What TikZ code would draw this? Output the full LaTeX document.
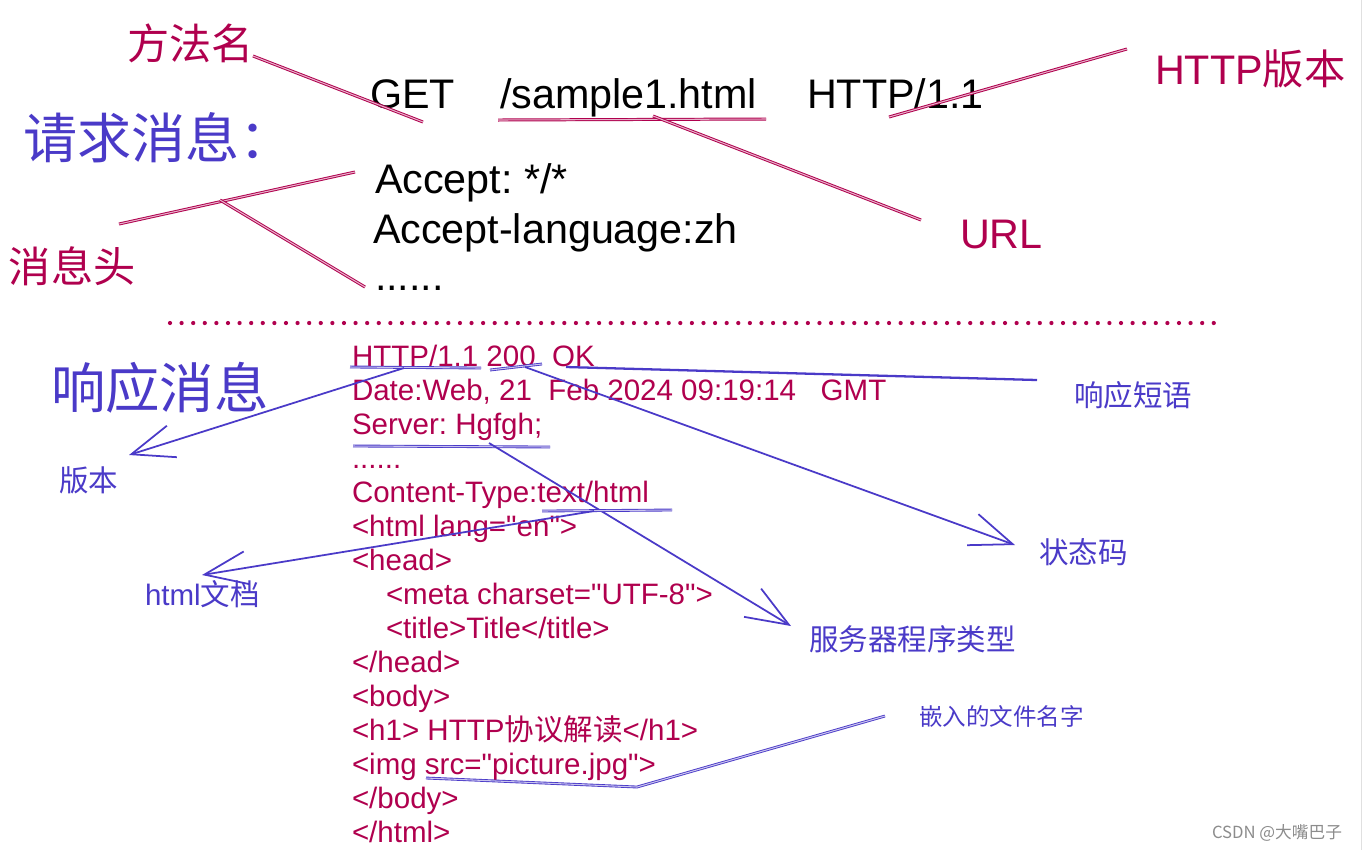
\documentclass[tikz,border=0pt]{standalone}
\usepackage{fontspec}
\usepackage{tikz}
\usepackage{xcolor}
\setmainfont{Liberation Sans}
\newfontfamily\cjk{Noto Sans CJK SC}
\usetikzlibrary{arrows.meta}
\definecolor{c1}{HTML}{B0004E}
\definecolor{c2}{HTML}{4A3AC8}
\definecolor{c3}{HTML}{8C8C8C}
\newcommand{\qq}{\textquotedbl}
\frenchspacing

\begin{document}
\begin{tikzpicture}[x=0.02cm, y=-0.02cm,
  txt/.style={anchor=base west, inner sep=0pt, outer sep=0pt},
  big/.style={txt, font=\fontsize{23.5}{24}\selectfont},
  code/.style={txt, text=c1, font=\fontsize{16.8}{17}\selectfont},
  note/.style={txt, text=c2, font=\cjk\fontsize{16.8}{17}\selectfont},
  redpen/.style={draw=c1, line width=0.55pt, double=c1!30, double distance=0.6pt},
  bluepen/.style={draw=c2, line width=0.5pt, double=c2!30, double distance=0.6pt},
  bluearrow/.style={draw=c2, line width=1pt, -{Straight Barb[length=0.85cm, width=0.66cm]}}
]
  \useasboundingbox (0,0) rectangle (1364,850);
  \fill[white] (0,0) rectangle (1364,850);
  \draw[black!12] (1361,0) -- (1361,850);

  % Request
  \node[big, text=c2, font=\cjk\fontsize{30.8}{31}\selectfont] (reqtitle) at (23,158) {请求消息：};
  \node[big] (get)     at (370,108) {GET};
  \node[big] (path)    at (500,108) {/sample1.html};
  \node[big] (ver)     at (807,108) {HTTP/1.1};
  \node[big] (acc)     at (375,193) {Accept: */*};
  \node[big] (acclang) at (373,243) {Accept-language:zh};
  \node[big] (accdots) at (375,290) {......};
  % Request labels
  \node[big, text=c1, font=\cjk\fontsize{24}{25}\selectfont] (mname) at (127,59) {方法名};
  \node[big, text=c1] (hverlbl) at (1155,84) {HTTP{\cjk 版本}};
  \node[big, text=c1] (urllbl)  at (960,248) {URL};
  \node[big, text=c1, font=\cjk\fontsize{24}{25}\selectfont] (hdrlbl) at (9,282) {消息头};

  \coordinate (mname-a) at (253,56);
  \coordinate (get-a)   at (423,122);
  \coordinate (path-l)  at (498,120);
  \coordinate (path-r)  at (766,119);
  \coordinate (path-m)  at (653,116);
  \coordinate (url-a)   at (921,220);
  \coordinate (ver-a)   at (889,117);
  \coordinate (hver-a)  at (1127,49);
  \coordinate (hdr-a)   at (119,224);
  \coordinate (acc-a)   at (355,172);
  \coordinate (hdr-m)   at (220,200);
  \coordinate (dots-a)  at (365,287);

  \draw[redpen] (mname-a) -- (get-a);
  \draw[redpen] (path-l) -- (path-r);
  \draw[redpen] (path-m) -- (url-a);
  \draw[redpen] (ver-a) -- (hver-a);
  \draw[redpen] (hdr-a) -- (acc-a);
  \draw[redpen] (hdr-m) -- (dots-a);

  % Separator
  \draw[c1, line width=2.4pt, line cap=round, dash pattern=on 0pt off 0.232cm] (170,323) -- (1215,323);

  % Response
  \node[big, text=c2, font=\cjk\fontsize{31}{32}\selectfont] (resptitle) at (51,408) {响应消息};
  \node[code] (r1)  at (352,366) {HTTP/1.1 200\ \ OK};
  \node[code] (r2)  at (352,400) {Date:Web, 21\ \ Feb 2024 09:19:14\ \ \ GMT};
  \node[code] (r3)  at (352,434) {Server: Hgfgh;};
  \node[code] (r4)  at (352,468) {......};
  \node[code] (r5)  at (352,502) {Content-Type:text/html};
  \node[code] (r6)  at (352,536) {<html lang=\qq en\qq>};
  \node[code] (r7)  at (352,570) {<head>};
  \node[code] (r8)  at (386,604) {<meta charset=\qq UTF-8\qq>};
  \node[code] (r9)  at (386,638) {<title>Title</title>};
  \node[code] (r10) at (352,672) {</head>};
  \node[code] (r11) at (352,706) {<body>};
  \node[code] (r12) at (352,740) {<h1> HTTP{\cjk 协议解读}</h1>};
  \node[code] (r13) at (352,774) {<img src=\qq picture.jpg\qq>};
  \node[code] (r14) at (352,808) {</body>};
  \node[code] (r15) at (352,842) {</html>};
  % Response labels
  \node[note] (phrase)  at (1074,406) {响应短语};
  \node[note] (verlbl)  at (59,491)   {版本};
  \node[note] (codelbl) at (1039,563) {状态码};
  \node[note, font=\fontsize{16.8}{17}\selectfont] (doclbl) at (145,605) {html{\cjk 文档}};
  \node[note] (srvlbl)  at (809,650)  {服务器程序类型};
  \node[note, font=\cjk\fontsize{13.4}{14}\selectfont] (filelbl) at (919,725) {嵌入的文件名字};
  \node[txt, text=c3, font=\cjk\fontsize{9.5}{10}\selectfont] (mark) at (1212,838) {CSDN @大嘴巴子};

  \coordinate (v-l)    at (350,367);
  \coordinate (v-r)    at (481,368);
  \coordinate (c-l)    at (490,370);
  \coordinate (c-r)    at (542,364);
  \coordinate (v-a)    at (404,368);
  \coordinate (v-tip)  at (129,455);
  \coordinate (c-a)    at (525,367);
  \coordinate (c-tip)  at (1015,545);
  \coordinate (ok-a)   at (566,367);
  \coordinate (ok-b)   at (1037,380);
  \coordinate (s-l)    at (353,446);
  \coordinate (s-r)    at (550,447);
  \coordinate (s-a)    at (489,443);
  \coordinate (s-tip)  at (791,626);
  \coordinate (t-l)    at (542,511);
  \coordinate (t-r)    at (672,510);
  \coordinate (t-a)    at (594,511);
  \coordinate (t-tip)  at (202,575);
  \coordinate (img-l)  at (426,778);
  \coordinate (img-r)  at (637,787);
  \coordinate (img-a)  at (885,716);

  \draw[bluepen] (v-l) -- (v-r);
  \draw[bluepen] (c-l) -- (c-r);
  \draw[bluearrow] (v-a) -- (v-tip);
  \draw[bluearrow] (c-a) -- (c-tip);
  \draw[c2, line width=1.3pt] (ok-a) -- (ok-b);
  \draw[bluepen] (s-l) -- (s-r);
  \draw[bluearrow] (s-a) -- (s-tip);
  \draw[bluepen] (t-l) -- (t-r);
  \draw[bluearrow] (t-a) -- (t-tip);
  \draw[bluepen] (img-l) -- (img-r) -- (img-a);
\end{tikzpicture}
\end{document}
